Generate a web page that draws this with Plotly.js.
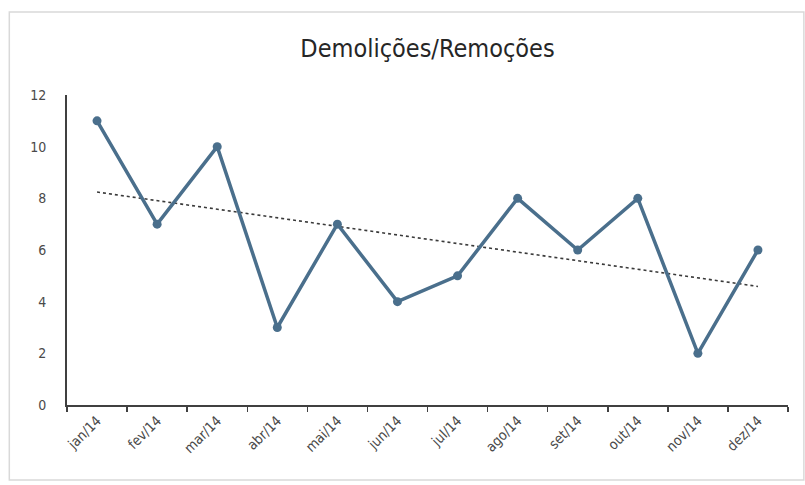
<!DOCTYPE html>
<html>
<head>
<meta charset="utf-8">
<script src="https://cdn.plot.ly/plotly-3.0.1.min.js"></script>
<style>html,body{margin:0;padding:0;background:#fff;}#chart{width:805px;height:485px;}</style>
</head>
<body>
<div id="chart"></div>
<script>
const months = ["jan/14","fev/14","mar/14","abr/14","mai/14","jun/14","jul/14","ago/14","set/14","out/14","nov/14","dez/14"];
const values = [11, 7, 10, 3, 7, 4, 5, 8, 6, 8, 2, 6];
const titleText = "Demolições/Remoções";
const yTicks = [0, 2, 4, 6, 8, 10, 12];

// linear trendline (least squares) computed from the data, as in the original spreadsheet chart
const n = values.length;
const xs = values.map((_, i) => i + 1);
const mx = xs.reduce((a, b) => a + b, 0) / n;
const my = values.reduce((a, b) => a + b, 0) / n;
let sxy = 0, sxx = 0;
for (let i = 0; i < n; i++) { sxy += (xs[i] - mx) * (values[i] - my); sxx += (xs[i] - mx) ** 2; }
const slope = sxy / sxx;
const trend = xs.map(x => my + slope * (x - mx));

const font = "'DejaVu Sans Condensed', 'Liberation Sans Narrow', 'Open Sans', sans-serif";

const data = [
  {
    x: months, y: trend, type: "scatter", mode: "lines",
    line: {color: "#3a3a3a", width: 1.6, dash: "dot"},
    hoverinfo: "skip", showlegend: false
  },
  {
    x: months, y: values, type: "scatter", mode: "lines+markers",
    line: {color: "#4a6f8c", width: 3.5},
    marker: {color: "#4a6f8c", size: 9},
    showlegend: false
  }
];

const layout = {
  width: 805, height: 485,
  margin: {l: 67, r: 17, t: 95, b: 80},
  paper_bgcolor: "#ffffff", plot_bgcolor: "#ffffff",
  title: {
    text: titleText,
    font: {family: font, size: 25, color: "#262626"},
    x: 0.5, xref: "paper", y: 0.9, yref: "container", yanchor: "middle"
  },
  xaxis: {
    type: "category", range: [-0.5, 11.5],
    showline: true, linecolor: "#404040", linewidth: 2,
    ticks: "outside", tickson: "boundaries", ticklen: 5, tickcolor: "#404040", tickwidth: 1.5,
    tickangle: -45, showgrid: false, zeroline: false,
    tickfont: {family: font, size: 14, color: "#4a4a4a"}
  },
  yaxis: {
    range: [0, 12], tickvals: yTicks,
    showline: true, linecolor: "#404040", linewidth: 2,
    ticks: "", showgrid: false, zeroline: false,
    ticklabelstandoff: 16,
    tickfont: {family: font, size: 14, color: "#4a4a4a"}
  },
  shapes: [{
    type: "rect", xref: "paper", yref: "paper",
    x0: -0.08, x1: 1.022, y0: -0.242, y1: 1.268,
    line: {color: "#d9d9d9", width: 1.5}, fillcolor: "rgba(0,0,0,0)", layer: "below"
  }]
};

Plotly.newPlot("chart", data, layout, {displayModeBar: false, staticPlot: true});
</script>
</body>
</html>
